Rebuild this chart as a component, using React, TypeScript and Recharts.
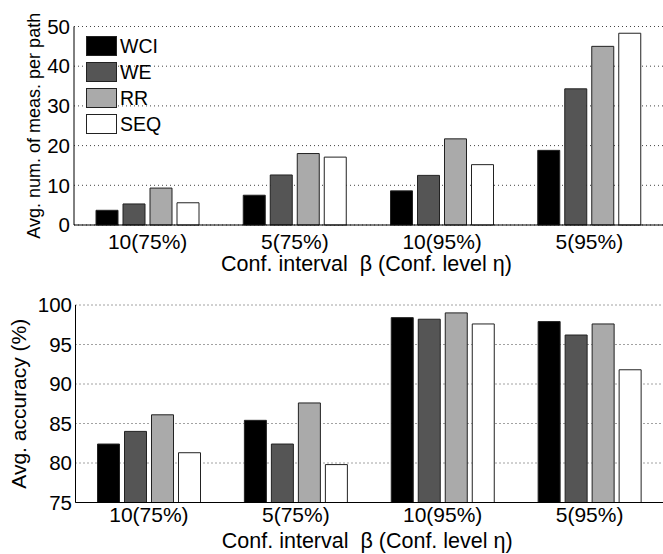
import React from 'react';
import { BarChart, Bar, XAxis, YAxis, CartesianGrid, Legend } from 'recharts';

const categories = ['10(75%)', '5(75%)', '10(95%)', '5(95%)'];
const seriesNames = ['WCI', 'WE', 'RR', 'SEQ'];
const seriesColors = ['#000000', '#555555', '#aaaaaa', '#ffffff'];

const measWCI = [3.7, 7.5, 8.6, 18.8];
const measWE = [5.3, 12.6, 12.5, 34.3];
const measRR = [9.3, 18.0, 21.7, 45.0];
const measSEQ = [5.6, 17.1, 15.2, 48.3];

const accWCI = [82.4, 85.4, 98.4, 97.9];
const accWE = [84.0, 82.4, 98.2, 96.2];
const accRR = [86.1, 87.6, 99.0, 97.6];
const accSEQ = [81.3, 79.8, 97.6, 91.8];

const measTicks = [0, 10, 20, 30, 40, 50];
const accTicks = [75, 80, 85, 90, 95, 100];

const xTitle = 'Conf. interval  \u03B2 (Conf. level \u03B7)';
const measTitle = 'Avg. num. of meas. per path';
const accTitle = 'Avg. accuracy (%)';

const measData = categories.map((cat, i) => ({
  cat,
  WCI: measWCI[i],
  WE: measWE[i],
  RR: measRR[i],
  SEQ: measSEQ[i],
}));
const accData = categories.map((cat, i) => ({
  cat,
  WCI: accWCI[i],
  WE: accWE[i],
  RR: accRR[i],
  SEQ: accSEQ[i],
}));

const FONT = '"Liberation Sans", Arial, Helvetica, sans-serif';

const XTitle = (props: any) => {
  const vb = props.viewBox || {};
  const cx = vb.x + vb.width / 2 - 2;
  return (
    <text
      x={cx}
      y={props.baseline}
      textAnchor="middle"
      fontSize={props.fs}
      fontFamily={FONT}
      fill="#000"
      style={{ whiteSpace: 'pre' }}
    >
      {props.text}
    </text>
  );
};

const YTitle = (props: any) => {
  const vb = props.viewBox || {};
  const cy = vb.y + vb.height / 2;
  const cx = props.cx;
  return (
    <text
      x={cx}
      y={cy}
      dy="0.35em"
      textAnchor="middle"
      fontSize={props.fs}
      fontFamily={FONT}
      fill="#000"
      transform={`rotate(-90, ${cx}, ${cy})`}
    >
      {props.text}
    </text>
  );
};

const renderLegend = () => (
  <div style={{ fontFamily: FONT }}>
    {seriesNames.map((name, i) => (
      <div
        key={name}
        style={{ display: 'flex', alignItems: 'center', height: 25.9 }}
      >
        <div
          style={{
            width: 31,
            height: 20,
            boxSizing: 'border-box',
            background: seriesColors[i],
            border: '1px solid #222',
            marginRight: 3,
          }}
        />
        <span style={{ fontSize: 19.5, lineHeight: '20px', color: '#000' }}>{name}</span>
      </div>
    ))}
  </div>
);

const xTickStyle = { fontSize: 21, fill: '#000', fontFamily: FONT };
const yTickStyle = { fontSize: 20.5, fill: '#000', fontFamily: FONT };

function renderBars() {
  return seriesNames.map((name, i) => (
    <Bar
      key={name}
      dataKey={name}
      fill={seriesColors[i]}
      stroke="#222"
      strokeWidth={1}
      isAnimationActive={false}
      legendType="square"
    />
  ));
}

export default function App() {
  return (
    <div style={{ position: 'absolute', left: 0, top: 0, width: 663, height: 554, background: '#fff', fontFamily: FONT }}>
      <div style={{ position: 'absolute', left: 0, top: 0 }}>
        <BarChart
          width={663}
          height={280}
          data={measData}
          margin={{ top: 26.5, right: 0, bottom: 0, left: 0 }}
          barSize={22}
          barGap={5}
        >
          <CartesianGrid vertical={false} stroke="#444" strokeDasharray="1 3" />
          <XAxis
            dataKey="cat"
            height={55}
            interval={0}
            tickLine={false}
            tickSize={0}
            tickMargin={9}
            axisLine={{ stroke: '#000', strokeWidth: 1 }}
            tick={xTickStyle}
            label={<XTitle baseline={271} fs={21.5} text={xTitle} />}
          />
          <XAxis
            xAxisId="top"
            orientation="top"
            dataKey="cat"
            mirror
            height={0}
            interval={0}
            tick={false}
            tickSize={6}
            tickLine={{ stroke: '#000' }}
            axisLine={{ stroke: '#000' }}
          />
          <XAxis
            xAxisId="bot"
            orientation="bottom"
            dataKey="cat"
            mirror
            height={0}
            interval={0}
            tick={false}
            tickSize={5}
            tickLine={{ stroke: '#000' }}
            axisLine={false}
          />
          <YAxis
            width={74}
            domain={[0, 50]}
            ticks={measTicks}
            interval={0}
            tickLine={false}
            tickSize={0}
            tickMargin={4}
            axisLine={{ stroke: '#000', strokeWidth: 1 }}
            tick={yTickStyle}
            label={<YTitle cx={34} fs={18} text={measTitle} />}
          />
          <YAxis
            yAxisId="left2"
            orientation="left"
            mirror
            width={0}
            domain={[0, 50]}
            ticks={measTicks}
            interval={0}
            tick={false}
            tickSize={5}
            tickLine={{ stroke: '#000' }}
            axisLine={false}
          />
          <YAxis
            yAxisId="right"
            orientation="right"
            mirror
            width={0}
            domain={[0, 50]}
            ticks={measTicks}
            interval={0}
            tick={false}
            tickSize={5}
            tickLine={{ stroke: '#000' }}
            axisLine={{ stroke: '#000' }}
          />
          <Legend
            content={renderLegend}
            layout="vertical"
            align="center"
            verticalAlign="middle"
            wrapperStyle={{ left: 86, top: 33.5, width: 'auto', height: 'auto' }}
          />
          {renderBars()}
        </BarChart>
      </div>
      <div style={{ position: 'absolute', left: 0, top: 280 }}>
        <BarChart
          width={663}
          height={274}
          data={accData}
          margin={{ top: 25, right: 0, bottom: 0, left: 0 }}
          barSize={22}
          barGap={5}
        >
          <CartesianGrid vertical={false} stroke="#444" strokeDasharray="1 3" />
          <XAxis
            dataKey="cat"
            height={51.5}
            interval={0}
            tickLine={false}
            tickSize={0}
            tickMargin={4.5}
            axisLine={{ stroke: '#000', strokeWidth: 1 }}
            tick={xTickStyle}
            label={<XTitle baseline={268} fs={21.5} text={xTitle} />}
          />
          <XAxis
            xAxisId="top"
            orientation="top"
            dataKey="cat"
            mirror
            height={0}
            interval={0}
            tick={false}
            tickSize={6}
            tickLine={{ stroke: '#000' }}
            axisLine={{ stroke: '#000' }}
          />
          <XAxis
            xAxisId="bot"
            orientation="bottom"
            dataKey="cat"
            mirror
            height={0}
            interval={0}
            tick={false}
            tickSize={5}
            tickLine={{ stroke: '#000' }}
            axisLine={false}
          />
          <YAxis
            width={75.5}
            domain={[75, 100]}
            ticks={accTicks}
            interval={0}
            tickLine={false}
            tickSize={0}
            tickMargin={3.5}
            axisLine={{ stroke: '#000', strokeWidth: 1 }}
            tick={yTickStyle}
            label={<YTitle cx={19} fs={21} text={accTitle} />}
          />
          <YAxis
            yAxisId="left2"
            orientation="left"
            mirror
            width={0}
            domain={[75, 100]}
            ticks={accTicks}
            interval={0}
            tick={false}
            tickSize={5}
            tickLine={{ stroke: '#000' }}
            axisLine={false}
          />
          <YAxis
            yAxisId="right"
            orientation="right"
            mirror
            width={0}
            domain={[75, 100]}
            ticks={accTicks}
            interval={0}
            tick={false}
            tickSize={5}
            tickLine={{ stroke: '#000' }}
            axisLine={{ stroke: '#000' }}
          />
          {renderBars()}
        </BarChart>
      </div>
    </div>
  );
}
